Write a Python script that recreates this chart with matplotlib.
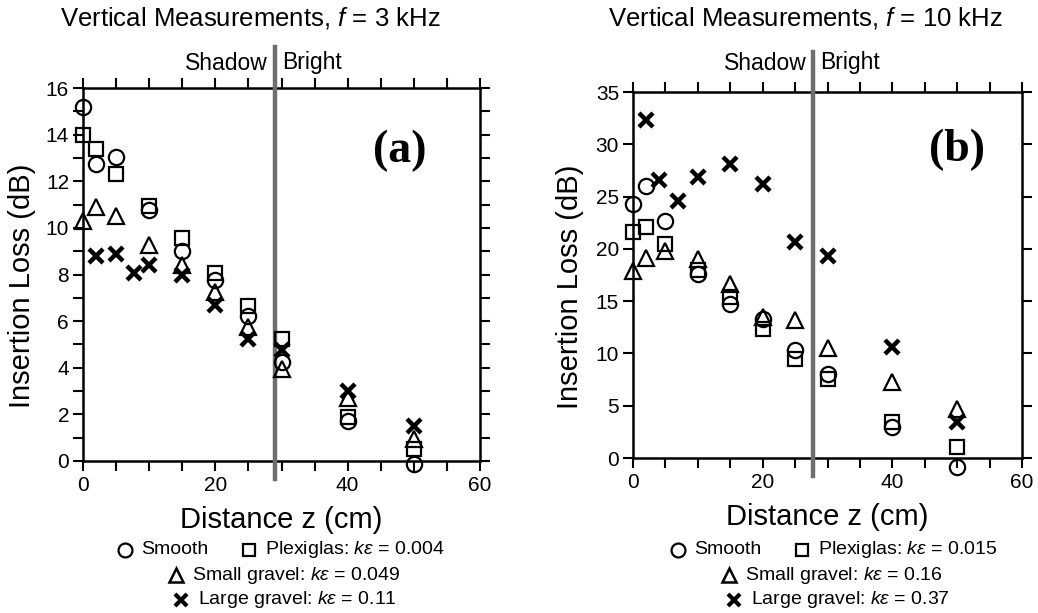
import matplotlib
matplotlib.use("Agg")
import matplotlib.pyplot as plt
from matplotlib.lines import Line2D
from matplotlib.ticker import MultipleLocator

plt.rcParams['font.family'] = ['Liberation Sans', 'DejaVu Sans']
plt.rcParams['mathtext.fontset'] = 'custom'
plt.rcParams['mathtext.it'] = 'Liberation Sans:italic'
plt.rcParams['mathtext.rm'] = 'Liberation Sans'

# ---------------- data: panel (a), f = 3 kHz ----------------
a_x = [0, 2, 5, 10, 15, 20, 25, 30, 40, 50]
a_smooth = [15.2, 12.75, 13.05, 10.75, 9.0, 7.75, 6.2, 4.25, 1.7, -0.15]
a_plexi = [14.0, 13.4, 12.3, 10.95, 9.55, 8.05, 6.65, 5.25, 1.9, 0.5]
a_small = [10.3, 10.9, 10.5, 9.25, 8.4, 7.25, 5.75, 3.95, 2.7, 0.95]
a_large_x = [2, 5, 7.7, 10, 15, 20, 25, 30, 40, 50]
a_large = [8.8, 8.9, 8.05, 8.4, 8.0, 6.7, 5.25, 4.75, 3.0, 1.5]

# ---------------- data: panel (b), f = 10 kHz ----------------
b_x = [0, 2, 5, 10, 15, 20, 25, 30, 40, 50]
b_smooth = [24.3, 26.0, 22.7, 17.6, 14.7, 13.3, 10.35, 8.05, 3.0, -0.85]
b_plexi = [21.6, 22.1, 20.5, 18.0, 15.4, 12.3, 9.5, 7.6, 3.4, 1.05]
b_small = [17.85, 19.15, 19.75, 19.05, 16.65, 13.5, 13.2, 10.5, 7.25, 4.7]
b_large_x = [2, 4, 7, 10, 15, 20, 25, 30, 40, 50]
b_large = [32.3, 26.6, 24.6, 26.9, 28.1, 26.2, 20.7, 19.3, 10.6, 3.45]

titles = ["Vertical Measurements, $f$ = 3 kHz", "Vertical Measurements, $f$ = 10 kHz"]
panel_tags = ["(a)", "(b)"]
boundaries = [29.0, 27.8]
ke_plexi = ["0.004", "0.015"]
ke_small = ["0.049", "0.16"]
ke_large = ["0.11", "0.37"]

W, H = 1038, 613
fig = plt.figure(figsize=(W / 100, H / 100), dpi=100)


def fx(px):
    return px / W


def fy(py):
    return 1 - py / H


axA = fig.add_axes([fx(83), fy(461), fx(480) - fx(83), fy(88) - fy(461)])
axB = fig.add_axes([fx(633), fy(458), fx(1022) - fx(633), fy(92) - fy(458)])

mk = dict(linestyle='none', markerfacecolor='none', markeredgecolor='black', color='black')


def draw(ax, x, sm, pl, sg, lx, lg):
    ax.plot(x, pl, marker='s', markersize=10, markeredgewidth=1.6, clip_on=False, zorder=6, **mk)
    ax.plot(x, sg, marker='^', markersize=11, markeredgewidth=1.6, clip_on=False, zorder=6, **mk)
    ax.plot(x, sm, marker='o', markersize=11, markeredgewidth=1.6, clip_on=False, zorder=6, **mk)
    ax.plot(lx, lg, marker='x', markersize=10, markeredgewidth=3.2, clip_on=False, zorder=6, **mk)


draw(axA, a_x, a_smooth, a_plexi, a_small, a_large_x, a_large)
draw(axB, b_x, b_smooth, b_plexi, b_small, b_large_x, b_large)

axA.set_xlim(0, 60)
axA.set_ylim(0, 16)
axA.yaxis.set_major_locator(MultipleLocator(2))
axA.yaxis.set_minor_locator(MultipleLocator(1))
axB.set_xlim(0, 60)
axB.set_ylim(0, 35)
axB.yaxis.set_major_locator(MultipleLocator(5))

setups = [(axA, boundaries[0], panel_tags[0], (47.8, 13.3), (-0.154, 0.469)),
          (axB, boundaries[1], panel_tags[1], (50.0, 29.45), (-0.162, 0.467))]
for ax, bnd, tag, tagpos, ylc in setups:
    ax.xaxis.set_major_locator(MultipleLocator(20))
    ax.xaxis.set_minor_locator(MultipleLocator(5))
    ax.tick_params(which='both', direction='out', top=True, right=True,
                   length=7, width=1.5, labelsize=15)
    ax.tick_params(axis='x', pad=4)
    ax.tick_params(axis='y', pad=3)
    for s in ax.spines.values():
        s.set_linewidth(1.8)
    ax.axvline(bnd, ymin=-0.048, ymax=1.11, color='#6e6e6e', linewidth=3.2,
               clip_on=False, zorder=5)
    ax.text(*tagpos, tag, ha='center', va='center', fontsize=33,
            fontweight='bold', family='Liberation Serif')
    ax.set_ylabel("Insertion Loss (dB)", fontsize=21, va='center')
    ax.yaxis.set_label_coords(*ylc)
    ax.set_xlabel("Distance z (cm)", fontsize=21, labelpad=8)

# titles and Shadow | Bright
fig.text(fx(250), fy(18), titles[0], ha='center', va='center', fontsize=18.5)
fig.text(fx(805), fy(18), titles[1], ha='center', va='center', fontsize=18.5)
for ax, bnd in [(axA, boundaries[0]), (axB, boundaries[1])]:
    xb = ax.transData.transform((bnd, 0))[0] / W
    fig.text(xb - fx(7), fy(63), "Shadow", ha='right', va='center', fontsize=16.5)
    fig.text(xb + fx(7), fy(63), "Bright", ha='left', va='center', fontsize=16.5)


# legends as text rows below each panel
def leg_marker(px, py, m, ms, mew):
    fig.add_artist(Line2D([fx(px)], [fy(py)], marker=m, markersize=ms, markeredgewidth=mew,
                          transform=fig.transFigure, **mk))


def leg_text(px, py, s):
    fig.text(fx(px), fy(py), s, ha='left', va='center', fontsize=14)


rows = [(0, 0), (553, 1)]
for dx, i in rows:
    leg_marker(125 + dx, 550, 'o', 10, 1.6)
    leg_text(141 + dx, 550, "Smooth")
    leg_marker(249 + dx, 550, 's', 9, 1.6)
    leg_text(265 + dx, 550, "Plexiglas: $k\\varepsilon$ = " + ke_plexi[i])
    leg_marker(176 + dx, 575, '^', 10, 1.8)
    leg_text(192 + dx, 575, "Small gravel: $k\\varepsilon$ = " + ke_small[i])
    leg_marker(181 + dx, 600, 'x', 9, 3.0)
    leg_text(198 + dx, 600, "Large gravel: $k\\varepsilon$ = " + ke_large[i])

fig.savefig("out.png", dpi=100)
